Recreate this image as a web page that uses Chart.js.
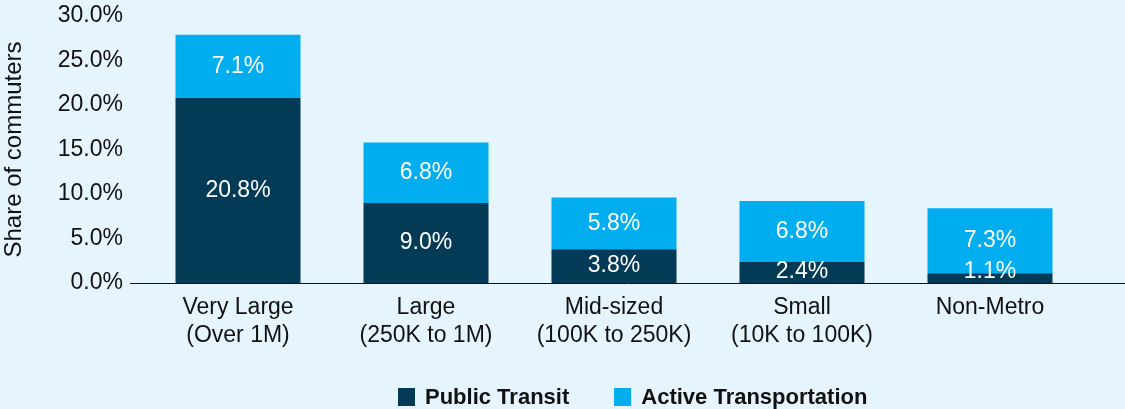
<!DOCTYPE html>
<html>
<head>
<meta charset="utf-8">
<script src="https://cdn.jsdelivr.net/npm/chart.js@4"></script>
<style>
  html, body { margin: 0; padding: 0; background: #e6f5fd; }
  #wrap { position: relative; width: 1125px; height: 409px; }
  #legend { position: absolute; left: 398px; top: 384px; display: flex; align-items: center;
            font-family: "Liberation Sans", Arial, sans-serif; font-weight: bold; font-size: 22px; color: #111; }
  .item { display: flex; align-items: center; margin-right: 45px; }
  .sw { width: 17px; height: 18px; margin-right: 10px; }
</style>
</head>
<body>
<div id="wrap">
  <canvas id="c" width="1125" height="409"></canvas>
  <div id="legend"></div>
</div>
<script>
const categories = [["Very Large", "(Over 1M)"], ["Large", "(250K to 1M)"], ["Mid-sized", "(100K to 250K)"], ["Small", "(10K to 100K)"], ["Non-Metro"]];
const publicTransit = [20.8, 9.0, 3.8, 2.4, 1.1];
const activeTransportation = [7.1, 6.8, 5.8, 6.8, 7.3];
const seriesNames = ["Public Transit", "Active Transportation"];
const seriesColors = ["#033a55", "#00aeef"];
const yTicks = [0, 5, 10, 15, 20, 25, 30];

const FONT = "'Liberation Sans', Arial, sans-serif";

const barLabels = {
  id: 'barLabels',
  afterDatasetsDraw(chart) {
    const ctx = chart.ctx;
    ctx.save();
    ctx.fillStyle = '#ffffff';
    ctx.font = '23px ' + FONT;
    ctx.textAlign = 'center';
    ctx.textBaseline = 'middle';
    chart.data.datasets.forEach((ds, di) => {
      const meta = chart.getDatasetMeta(di);
      meta.data.forEach((el, i) => {
        const p = el.getProps(['x', 'y', 'base'], true);
        let cy = (p.y + p.base) / 2;
        cy = Math.min(cy, p.base - 11);
        ctx.fillText(ds.data[i].toFixed(1) + '%', p.x, cy);
      });
    });
    ctx.restore();
  }
};

const baseLine = {
  id: 'baseLine',
  afterDatasetsDraw(chart) {
    const ctx = chart.ctx, a = chart.chartArea;
    const y = Math.round(chart.scales.y.getPixelForValue(0)) + 0.5;
    ctx.save();
    ctx.strokeStyle = '#111';
    ctx.lineWidth = 1;
    ctx.beginPath();
    ctx.moveTo(a.left - 14, y);
    ctx.lineTo(chart.width, y);
    ctx.stroke();
    ctx.restore();
  }
};

const chart = new Chart(document.getElementById('c'), {
  type: 'bar',
  data: {
    labels: categories,
    datasets: [
      { label: seriesNames[0], data: publicTransit, backgroundColor: seriesColors[0] },
      { label: seriesNames[1], data: activeTransportation, backgroundColor: seriesColors[1] }
    ]
  },
  options: {
    responsive: false,
    animation: false,
    layout: { padding: { left: 0, right: 41, top: 16, bottom: 0 } },
    datasets: { bar: { categoryPercentage: 1, barPercentage: 0.665 } },
    plugins: { legend: { display: false }, tooltip: { enabled: false } },
    scales: {
      x: {
        stacked: true,
        grid: { display: false, drawTicks: false },
        border: { display: false },
        ticks: { color: '#111', font: { family: FONT, size: 23 }, padding: 11, maxRotation: 0, autoSkip: false },
        afterFit(s) { s.height = 126; s.paddingLeft = 0; s.paddingRight = 0; }
      },
      y: {
        stacked: true,
        min: 0, max: 30,
        grid: { display: false, drawTicks: false },
        border: { display: false },
        afterBuildTicks(s) { s.ticks = yTicks.map(v => ({ value: v })); },
        ticks: { color: '#111', font: { family: FONT, size: 23 }, padding: 21,
                 callback: v => v.toFixed(1) + '%' },
        title: { display: true, text: 'Share of commuters', color: '#111', font: { family: FONT, size: 24 }, padding: 0 },
        afterFit(s) { s.width = 144; s.paddingTop = 0; s.paddingBottom = 0; }
      }
    }
  },
  plugins: [barLabels, baseLine]
});

const lg = document.getElementById('legend');
chart.data.datasets.forEach(ds => {
  const it = document.createElement('div'); it.className = 'item';
  const sw = document.createElement('div'); sw.className = 'sw'; sw.style.background = ds.backgroundColor;
  const tx = document.createElement('span'); tx.textContent = ds.label;
  it.appendChild(sw); it.appendChild(tx); lg.appendChild(it);
});
</script>
</body>
</html>
